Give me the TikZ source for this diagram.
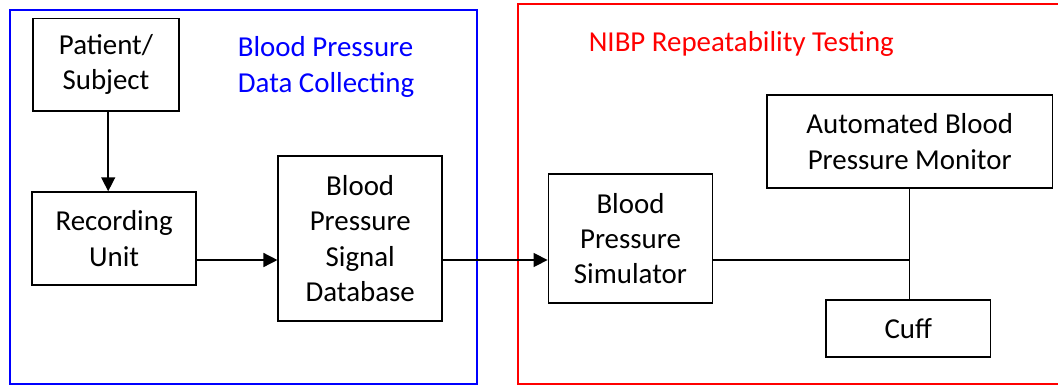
\documentclass[tikz,border=0pt]{standalone}
\usepackage{fontspec}
\setmainfont{Carlito}
\usetikzlibrary{arrows.meta}
\begin{document}
\begin{tikzpicture}[x=1bp,y=-1bp,
  txt/.style={font=\fontsize{29}{35.5}\selectfont},
  blk/.style={draw=black, line width=1.5bp, inner sep=0pt, align=center, txt},
  arr/.style={line width=1.5bp, -{Triangle[length=14bp,width=14bp]}},
  ln/.style={line width=1.5bp}]
\useasboundingbox (0,0) rectangle (1058,385);
% frames
\draw[blue, line width=1.6bp] (10,10) rectangle (476.7,384);
\draw[red, line width=1.6bp] (1062,4) -- (517.7,4) -- (517.7,384) -- (1062,384);
% titles
\node[txt, text=blue, align=left, anchor=base west, inner sep=0pt] (t1) at (237.7,92.3) {Blood Pressure\\Data Collecting};
\node[txt, text=red, anchor=base west, inner sep=0pt] (t2) at (588.6,51.7) {NIBP Repeatability Testing};
% blocks
\node[blk, minimum width=146.4bp, minimum height=92.7bp] (P) at (106,64.7) {Patient/\\Subject};
\node[blk, minimum width=164bp, minimum height=93bp] (R) at (114.1,238.5) {Recording\\Unit};
\node[blk, minimum width=164bp, minimum height=165bp] (D) at (360.2,238.5) {Blood\\Pressure\\Signal\\Database};
\node[blk, minimum width=164.3bp, minimum height=129bp] (S) at (630.5,238.5) {Blood\\Pressure\\Simulator};
\node[blk, minimum width=285.5bp, minimum height=93bp] (M) at (909.7,141.5) {Automated Blood\\Pressure Monitor};
\node[blk, minimum width=164.6bp, minimum height=57bp] (C) at (908.3,328.5) {Cuff};
% connectors
\coordinate (row) at (0,260);
\draw[arr] ([xshift=2.2bp]P.south) -- ([xshift=2.2bp]P.south |- R.north);
\draw[arr] (R.east |- row) -- (D.west |- row);
\draw[arr] (D.east |- row) -- (S.west |- row);
\draw[ln] (S.east |- row) -- (M.south |- row);
\draw[ln] (M.south) -- (M.south |- C.north);
\end{tikzpicture}
\end{document}
